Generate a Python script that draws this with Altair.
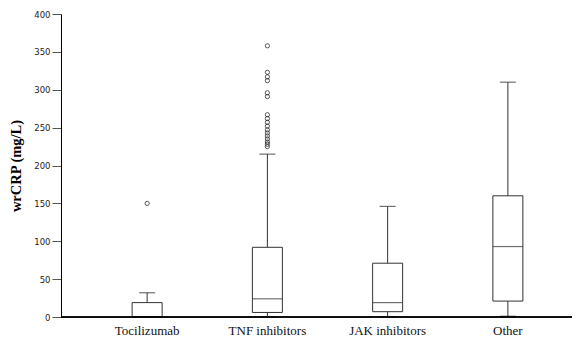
import altair as alt
import pandas as pd

groups = ["Tocilizumab", "TNF inhibitors", "JAK inhibitors", "Other"]
lower_whisker = [0, 0, 0, 1]
q1 = [0, 6, 7, 21]
median = [0, 24, 19, 93]
q3 = [19, 92, 71, 160]
upper_whisker = [32, 215, 146, 310]

outlier_groups = ["Tocilizumab"] + ["TNF inhibitors"] * 17
outlier_values = [150, 358, 323, 317, 312, 296, 291, 267, 262, 257, 252,
                  247, 243, 239, 235, 231, 228, 225]
y_ticks = [0, 50, 100, 150, 200, 250, 300, 350, 400]

stats = pd.DataFrame({"group": groups, "lo": lower_whisker, "q1": q1,
                      "med": median, "q3": q3, "hi": upper_whisker})
outl = pd.DataFrame({"group": outlier_groups, "value": outlier_values})

SERIF = "Liberation Serif"
W, H = 511, 303
xscale = alt.Scale(domain=groups, range=[26, 507], paddingInner=0, paddingOuter=0)
xenc = alt.X("group:N", scale=xscale, sort=groups, axis=None)
yscale = alt.Scale(domain=[0, 400], nice=False)
yaxis = alt.Axis(title="wrCRP (mg/L)", values=y_ticks, grid=False,
                 labelOverlap=False, domainColor="#000", tickColor="#555",
                 tickSize=9, labelPadding=2,
                 labelFont="DejaVu Sans", labelFontSize=8.5, labelColor="#222",
                 titleFont=SERIF, titleFontSize=14.5,
                 titleFontWeight="bold", titleColor="#000", titlePadding=10)


def Y(field):
    return alt.Y(field, scale=yscale, axis=yaxis)


stroke = "#333"
base = alt.Chart(stats)

whisk = base.mark_rule(color=stroke, strokeWidth=1).encode(
    x=xenc, y=Y("lo:Q"), y2="hi:Q")
box = base.mark_bar(size=30, fill="white", stroke=stroke, strokeWidth=1).encode(
    x=xenc, y=Y("q1:Q"), y2="q3:Q")
med = base.mark_tick(size=30, thickness=1.2, color=stroke).encode(
    x=xenc, y=Y("med:Q"))
capt = base.mark_tick(size=16, thickness=1.2, color=stroke).encode(
    x=xenc, y=Y("hi:Q"))
capb = base.mark_tick(size=16, thickness=1.2, color=stroke).encode(
    x=xenc, y=Y("lo:Q"))
pts = alt.Chart(outl).mark_point(shape="circle", size=18, filled=False,
                                 color="#111", strokeWidth=1).encode(
    x=xenc, y=Y("value:Q"))
xline = base.mark_rule(color="#000", strokeWidth=1).encode(
    x=alt.value(0), x2=alt.value(W), y=alt.value(H))
labels = base.mark_text(font=SERIF, fontSize=13, color="#111",
                        baseline="alphabetic", align="center").encode(
    x=xenc, y=alt.value(H + 18), text="group:N")

chart = alt.layer(whisk, box, med, capt, capb, pts, xline, labels).properties(
    width=W, height=H,
    autosize=alt.AutoSizeParams(type="none"),
    padding={"left": 61, "top": 14, "right": 10, "bottom": 23},
    background="white",
).configure_view(stroke=None)

chart.save("out.html", embed_options={"renderer": "svg", "actions": False})
